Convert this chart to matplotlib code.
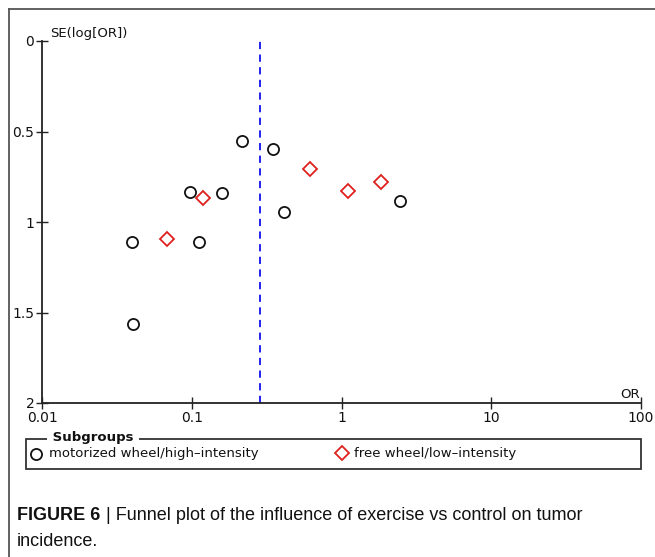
import matplotlib
matplotlib.use("Agg")
import matplotlib.pyplot as plt
from matplotlib.lines import Line2D
from matplotlib.patches import Rectangle
import numpy as np

# Data
motorized_or = [0.0397, 0.112, 0.098, 0.159, 0.215, 0.349, 0.411, 2.46, 0.0403]
motorized_se = [1.109, 1.109, 0.836, 0.841, 0.552, 0.597, 0.946, 0.882, 1.565]
free_or = [0.0685, 0.118, 0.612, 1.10, 1.84]
free_se = [1.096, 0.869, 0.707, 0.829, 0.779]
pooled_or = 0.284
x_ticks = [0.01, 0.1, 1, 10, 100]
x_ticklabels = ["0.01", "0.1", "1", "10", "100"]
y_ticks = [0, 0.5, 1, 1.5, 2]
y_ticklabels = ["0", "0.5", "1", "1.5", "2"]
group_labels = ["motorized wheel/high\u2013intensity", "free wheel/low\u2013intensity"]

W, H = 655, 557
fig = plt.figure(figsize=(W / 100, H / 100), dpi=100)
fig.patch.set_facecolor("white")

def fx(px):
    return px / W

def fy(py):
    return 1 - py / H

ax = fig.add_axes([fx(42), fy(403), fx(641) - fx(42), fy(41) - fy(403)])
ax.set_xscale("log")
ax.set_xlim(0.01, 100)
ax.set_ylim(2, 0)
for s in ["top", "right"]:
    ax.spines[s].set_visible(False)
for s in ["left", "bottom"]:
    ax.spines[s].set_linewidth(1.3)
    ax.spines[s].set_color("#222222")

ax.set_xticks(x_ticks)
ax.set_xticklabels(x_ticklabels)
ax.xaxis.set_minor_locator(matplotlib.ticker.NullLocator())
ax.set_yticks(y_ticks)
ax.set_yticklabels(y_ticklabels)
ax.tick_params(axis="both", direction="inout", length=9, width=1.0, color="#222222",
               labelsize=10, pad=1)
for lab in ax.get_xticklabels() + ax.get_yticklabels():
    lab.set_family("DejaVu Sans")
    lab.set_color("#111111")

ax.axvline(pooled_or, color="#1010ee", linestyle=(0, (4, 3)), linewidth=1.3)

ax.plot(motorized_or, motorized_se, linestyle="none", marker="o", markersize=8,
        markerfacecolor="none", markeredgecolor="#111111", markeredgewidth=1.3, clip_on=False)
ax.plot(free_or, free_se, linestyle="none", marker="D", markersize=6.8,
        markerfacecolor="none", markeredgecolor="#e0201e", markeredgewidth=1.3, clip_on=False)

ax.text(fx(50), fy(33), "SE(log[OR])", transform=fig.transFigure, ha="left", va="center",
        fontsize=9.5, color="#111111")
ax.text(fx(640), fy(394), "OR", transform=fig.transFigure, ha="right", va="center",
        fontsize=9.5, color="#111111")

# Legend box
fig.patches.append(Rectangle((fx(26), fy(469)), fx(641) - fx(26), fy(439) - fy(469),
                             transform=fig.transFigure, fill=False, edgecolor="#333333",
                             linewidth=1.3))
fig.text(fx(48), fy(438), " Subgroups ", ha="left", va="center", fontsize=9.5,
         fontweight="bold", color="#111111",
         bbox=dict(facecolor="white", edgecolor="none", pad=0.5))
fig.add_artist(Line2D([fx(36)], [fy(454)], marker="o", markersize=8, markerfacecolor="none",
                      markeredgecolor="#111111", markeredgewidth=1.3, linestyle="none",
                      transform=fig.transFigure))
fig.text(fx(49), fy(454), group_labels[0], ha="left", va="center", fontsize=9.5, color="#111111")
fig.add_artist(Line2D([fx(342)], [fy(453)], marker="D", markersize=6.8, markerfacecolor="none",
                      markeredgecolor="#e0201e", markeredgewidth=1.3, linestyle="none",
                      transform=fig.transFigure))
fig.text(fx(354), fy(454), group_labels[1], ha="left", va="center", fontsize=9.5, color="#111111")

# Outer frame lines
fig.add_artist(Line2D([fx(9), fx(9)], [fy(9), 0], color="#555555", linewidth=1.3,
                      transform=fig.transFigure))
fig.add_artist(Line2D([fx(9), 1], [fy(9), fy(9)], color="#555555", linewidth=1.3,
                      transform=fig.transFigure))

# Caption
cap_bold = fig.text(fx(17), fy(516), "FIGURE 6", ha="left", va="center", fontsize=13,
                    fontweight="bold", color="#111111", family="Liberation Sans")
fig.canvas.draw()
bb = cap_bold.get_window_extent(renderer=fig.canvas.get_renderer())
fig.text(bb.x1 / W + fx(1), fy(516), " | Funnel plot of the influence of exercise vs control on tumor",
         ha="left", va="center", fontsize=13, color="#111111", family="Liberation Sans")
fig.text(fx(17), fy(541), "incidence.", ha="left", va="center", fontsize=13,
         color="#111111", family="Liberation Sans")

fig.savefig("out.png", dpi=100, facecolor="white")
